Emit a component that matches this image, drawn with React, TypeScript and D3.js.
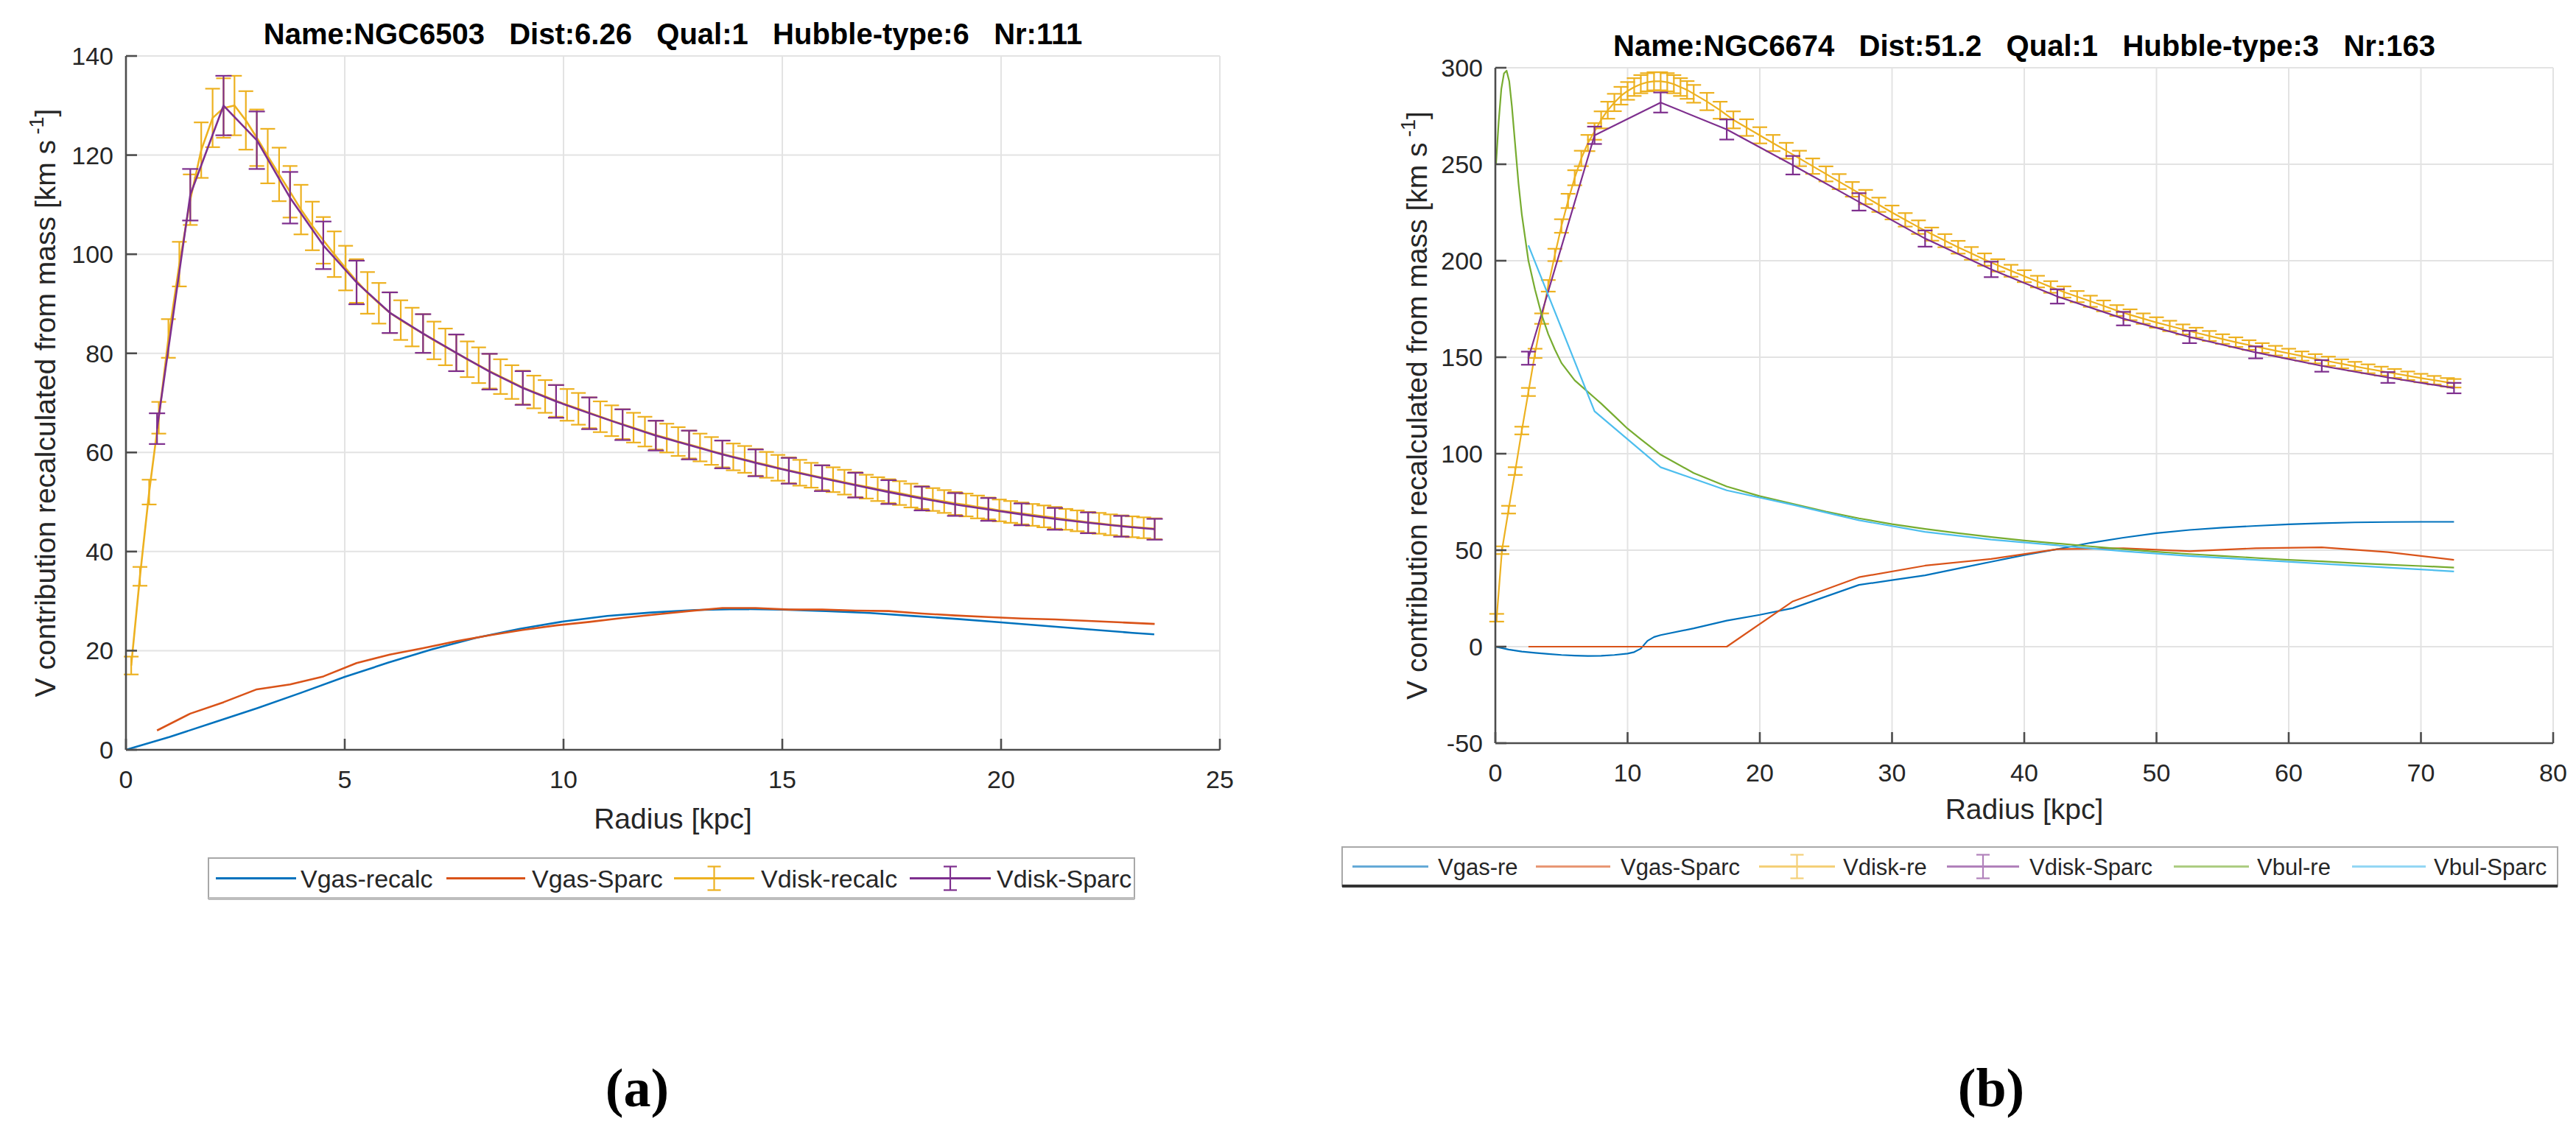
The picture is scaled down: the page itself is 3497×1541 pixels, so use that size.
import React from 'react';
import * as d3 from 'd3';

// ---------------- Panel (a) data: NGC6503 ----------------
const aTitle = 'Name:NGC6503   Dist:6.26   Qual:1   Hubble-type:6   Nr:111';
const aXTicks = [0, 5, 10, 15, 20, 25];
const aYTicks = [0, 20, 40, 60, 80, 100, 120, 140];
const aLegend = ['Vgas-recalc', 'Vgas-Sparc', 'Vdisk-recalc', 'Vdisk-Sparc'];

const aGasRecalcR = [0, 1, 2, 3, 4, 5, 6, 7, 8, 9, 10, 11, 12, 13, 14, 15, 16, 17, 18, 19, 20, 21, 22, 23, 23.5];
const aGasRecalcV = [0, 2.6, 5.5, 8.4, 11.5, 14.7, 17.6, 20.3, 22.6, 24.4, 25.9, 27.0, 27.7, 28.2, 28.4, 28.3, 28.0, 27.6, 27.0, 26.4, 25.7, 25.0, 24.3, 23.6, 23.3];

const aSparcR = [0.71, 1.47, 2.23, 2.99, 3.75, 4.51, 5.27, 6.03, 6.79, 7.55, 8.31, 9.07, 9.83, 10.59, 11.35, 12.11, 12.87, 13.63, 14.39, 15.15, 15.91, 16.67, 17.43, 18.19, 18.95, 19.71, 20.47, 21.23, 21.99, 22.75, 23.51];
const aGasSparcV = [3.9, 7.3, 9.6, 12.2, 13.2, 14.8, 17.5, 19.2, 20.5, 21.9, 23.1, 24.2, 25.1, 25.8, 26.6, 27.3, 28.0, 28.6, 28.6, 28.3, 28.3, 28.1, 28.0, 27.5, 27.1, 26.8, 26.5, 26.3, 26.0, 25.7, 25.4];
const aDiskSparcV = [64.8, 112, 130, 123, 111.4, 101.8, 94.3, 88.2, 84.0, 80.1, 76.3, 73.0, 70.3, 67.9, 65.6, 63.4, 61.5, 59.6, 57.9, 56.3, 54.8, 53.4, 52.0, 50.7, 49.5, 48.5, 47.5, 46.6, 45.8, 45.1, 44.5];
const aDiskSparcE = [3.1, 5.2, 6.0, 5.8, 5.2, 4.8, 4.4, 4.1, 3.9, 3.7, 3.6, 3.4, 3.3, 3.2, 3.1, 3.0, 2.9, 2.8, 2.7, 2.6, 2.6, 2.5, 2.4, 2.4, 2.3, 2.3, 2.2, 2.2, 2.1, 2.1, 2.1];

const aDiskRecalcR = [
  0.12, 0.32, 0.53, 0.75, 0.97, 1.22, 1.47, 1.72, 1.98, 2.23, 2.48,
  2.74, 2.99, 3.24, 3.50, 3.75, 4.00, 4.26, 4.51, 4.76, 5.02,
  5.27, 5.52, 5.78, 6.03, 6.28, 6.54, 6.79, 7.04, 7.30, 7.55,
  7.80, 8.06, 8.31, 8.56, 8.82, 9.07, 9.32, 9.58, 9.83, 10.08,
  10.34, 10.59, 10.84, 11.10, 11.35, 11.60, 11.86, 12.11, 12.36, 12.62,
  12.87, 13.12, 13.38, 13.63, 13.88, 14.14, 14.39, 14.64, 14.90, 15.15,
  15.40, 15.66, 15.91, 16.16, 16.42, 16.67, 16.92, 17.18, 17.43, 17.68,
  17.94, 18.19, 18.44, 18.70, 18.95, 19.20, 19.46, 19.71, 19.96, 20.22,
  20.47, 20.72, 20.98, 21.23, 21.48, 21.74, 21.99, 22.24, 22.50, 22.75,
  23.00, 23.26, 23.51];
const aDiskRecalcV = [
  17, 35, 52, 67, 83, 98, 111, 121, 127.5, 129.5, 130,
  127, 123.5, 119.8, 116.1, 112.6, 109, 105.7, 102.8, 100, 97.2,
  94.6, 92.2, 90.1, 88.2, 86.7, 85.3, 84.0, 82.6, 81.3, 80.1,
  78.8, 77.6, 76.4, 75.3, 74.2, 73.1, 72.2, 71.3, 70.4, 69.6,
  68.8, 68.0, 67.2, 66.4, 65.7, 65.0, 64.2, 63.5, 62.9, 62.2,
  61.6, 61.0, 60.3, 59.7, 59.1, 58.6, 58.0, 57.5, 56.9, 56.4,
  55.9, 55.4, 54.9, 54.5, 54.0, 53.5, 53.1, 52.6, 52.2, 51.8,
  51.3, 50.9, 50.5, 50.1, 49.7, 49.4, 49.0, 48.7, 48.3, 48.0,
  47.7, 47.4, 47.1, 46.8, 46.5, 46.2, 45.9, 45.7, 45.4, 45.2,
  45.0, 44.8, 44.6];
const aDiskRecalcE = [
  1.8, 1.9, 2.5, 3.2, 3.9, 4.5, 5.1, 5.6, 5.9, 6.0, 6.0,
  5.9, 5.7, 5.5, 5.4, 5.2, 5.0, 4.9, 4.7, 4.6, 4.5,
  4.4, 4.2, 4.1, 4.1, 4.0, 3.9, 3.9, 3.8, 3.7, 3.7,
  3.6, 3.6, 3.5, 3.5, 3.4, 3.4, 3.3, 3.3, 3.2, 3.2,
  3.2, 3.1, 3.1, 3.1, 3.0, 3.0, 3.0, 2.9, 2.9, 2.9,
  2.8, 2.8, 2.8, 2.7, 2.7, 2.7, 2.7, 2.6, 2.6, 2.6,
  2.6, 2.5, 2.5, 2.5, 2.5, 2.5, 2.4, 2.4, 2.4, 2.4,
  2.4, 2.3, 2.3, 2.3, 2.3, 2.3, 2.3, 2.2, 2.2, 2.2,
  2.2, 2.2, 2.2, 2.2, 2.1, 2.1, 2.1, 2.1, 2.1, 2.1,
  2.1, 2.1, 2.1];

// ---------------- Panel (b) data: NGC6674 ----------------
const bTitle = 'Name:NGC6674   Dist:51.2   Qual:1   Hubble-type:3   Nr:163';
const bXTicks = [0, 10, 20, 30, 40, 50, 60, 70, 80];
const bYTicks = [-50, 0, 50, 100, 150, 200, 250, 300];
const bLegend = ['Vgas-re', 'Vgas-Sparc', 'Vdisk-re', 'Vdisk-Sparc', 'Vbul-re', 'Vbul-Sparc'];

const bGasReR = [0, 1, 2, 3, 4, 5, 6, 7, 8, 9, 10, 10.5, 11, 11.5, 12, 12.5, 15, 17.5, 20, 22.5, 25, 27.5, 30, 32.5, 35, 37.5, 40, 42.5, 45, 47.5, 50, 52.5, 55, 57.5, 60, 62.5, 65, 67.5, 70, 72.5];
const bGasReV = [0, -1.5, -2.5, -3.2, -3.8, -4.3, -4.6, -4.8, -4.7, -4.3, -3.6, -2.8, -1, 3, 5, 6, 9.5, 13.5, 16.5, 20, 26, 32, 34.5, 37, 40.5, 44, 47.5, 50.5, 53.8, 56.5, 58.8, 60.5, 61.7, 62.6, 63.4, 64.0, 64.4, 64.6, 64.7, 64.7];

const bSparcR = [2.5, 7.5, 12.5, 17.5, 22.5, 27.5, 32.5, 37.5, 42.5, 47.5, 52.5, 57.5, 62.5, 67.5, 72.5];
const bGasSparcV = [0, 0, 0, 0, 23.5, 36, 42, 45.5, 50.5, 51, 49.5, 51, 51.5, 49, 45];
const bDiskSparcV = [149.5, 265, 282, 268, 249.5, 230.5, 211.5, 195.5, 181.5, 170, 160.5, 152.5, 145.5, 139.5, 134];
const bDiskSparcE = [3.4, 4.5, 5.2, 5.2, 4.8, 4.5, 4.2, 4.0, 3.7, 3.5, 3.2, 3.1, 3.0, 2.8, 2.7];
const bBulSparcV = [208, 122, 93, 81, 73.5, 65.5, 59.5, 55.5, 52.5, 49.5, 47, 45, 43, 41, 39];

const bDiskReR = [
  0.1, 0.5, 1, 1.5, 2, 2.5, 3, 3.5, 4, 4.5,
  5, 5.5, 6, 6.5, 7, 7.5, 8, 8.5, 9, 9.5,
  10, 10.5, 11, 11.5, 12, 12.5, 13, 13.5, 14, 14.5, 15,
  16, 17, 18, 19, 20, 21, 22, 23, 24, 25,
  26, 27, 28, 29, 30, 31, 32, 33, 34, 35,
  36, 37, 38, 39, 40, 41, 42, 43, 44, 45,
  46, 47, 48, 49, 50, 51, 52, 53, 54, 55,
  56, 57, 58, 59, 60, 61, 62, 63, 64, 65,
  66, 67, 68, 69, 70, 71, 72, 72.5];
const bDiskReV = [
  15, 50, 71, 91, 112, 132, 152, 170, 187, 203,
  218, 231, 243, 253, 261, 267, 273, 278, 282, 285.5,
  288, 290, 291.5, 292.5, 293, 293, 292.5, 291.5, 290, 288.5, 286.5,
  282.5, 278, 273, 269, 265, 261, 257, 253, 249, 245,
  241, 237, 233, 229, 225, 221.2, 217.4, 213.8, 210.4, 207,
  203.8, 200.6, 197.6, 194.8, 192, 189.2, 186.4, 183.8, 181.4, 179,
  176.6, 174.2, 172, 170, 168, 166.2, 164.4, 162.7, 161, 159.4,
  157.8, 156.3, 154.8, 153.4, 152, 150.6, 149.2, 147.9, 146.6, 145.3,
  144, 142.8, 141.6, 140.4, 139.2, 138.1, 137, 136.5];
const bDiskReE = [
  2.0, 2.0, 2.0, 2.0, 2.0, 2.1, 2.4, 2.7, 3.0, 3.2,
  3.5, 3.7, 3.9, 4.0, 4.2, 4.3, 4.4, 4.4, 4.5, 4.6,
  4.6, 4.6, 4.7, 4.7, 4.7, 4.7, 4.7, 4.7, 4.6, 4.6, 4.6,
  4.5, 4.4, 4.4, 4.3, 4.2, 4.2, 4.1, 4.0, 4.0, 3.9,
  3.9, 3.8, 3.7, 3.7, 3.6, 3.5, 3.5, 3.4, 3.4, 3.3,
  3.3, 3.2, 3.2, 3.1, 3.1, 3.0, 3.0, 2.9, 2.9, 2.9,
  2.8, 2.8, 2.8, 2.7, 2.7, 2.7, 2.6, 2.6, 2.6, 2.5,
  2.5, 2.5, 2.5, 2.5, 2.4, 2.4, 2.4, 2.4, 2.3, 2.3,
  2.3, 2.3, 2.3, 2.2, 2.2, 2.2, 2.2, 2.2];

const bBulReR = [0.05, 0.25, 0.45, 0.65, 0.85, 1.05, 1.25, 1.5, 1.75, 2.0, 2.5, 3.0, 3.5, 4.0, 4.5, 5.0, 6.0, 7.0, 7.5, 8, 9, 10, 11, 12.5, 15, 17.5, 20, 22.5, 25, 27.5, 30, 32.5, 35, 37.5, 40, 42.5, 45, 47.5, 50, 52.5, 55, 57.5, 60, 62.5, 65, 67.5, 70, 72.5];
const bBulReV = [250, 272, 289, 297, 298.5, 293, 280, 260, 240, 224, 200, 185, 172, 162, 154, 147, 138, 132, 129, 126, 119.5, 113, 107.5, 99.5, 90, 83, 78, 74, 70, 66.5, 63.5, 61, 58.8, 56.8, 55, 53.5, 52, 50.5, 49.2, 48, 47, 46, 45, 44.2, 43.3, 42.5, 41.8, 41];

// ---------------- styling ----------------
const C_BLUE = '#0072BD';
const C_RED = '#D95319';
const C_YEL = '#EDB120';
const C_PUR = '#7E2F8E';
const C_GRN = '#77AC30';
const C_CYA = '#4DBEEE';
const FONT = "'Liberation Sans', Arial, Helvetica, sans-serif";
const TXT = '#262626';

type Series = { kind: 'line' | 'err'; r: number[]; v: number[]; e?: number[]; color: string; w: number; cap: number; op?: number };

type PanelProps = {
  xRange: [number, number];
  yRange: [number, number];
  xDom: [number, number];
  yDom: [number, number];
  xTicks: number[];
  yTicks: number[];
  series: Series[];
  title: string;
  titleY: number;
  yLabelX: number;
  xLabelY: number;
  legend: string[];
  legendBox: [number, number, number, number];
  legendLines: [number, number][];
  legendTextX: number[];
  legendFont: number;
  legendBottom: string;
  legendOpacity: number;
  tag: string;
  tagX: number;
};

function Panel(p: PanelProps) {
  const xs = d3.scaleLinear().domain(p.xDom).range(p.xRange);
  const ys = d3.scaleLinear().domain(p.yDom).range(p.yRange);
  const [xl, xr] = p.xRange;
  const [yb, yt] = p.yRange;
  const cx = (xl + xr) / 2;
  const cy = (yb + yt) / 2;
  const tick = 15;

  const lineFor = (s: Series) =>
    d3.line<number>().x((_, i) => xs(s.r[i])).y((d) => ys(d))(s.v) || '';

  const [lx0, ly0, lx1, ly1] = p.legendBox;
  const lcy = (ly0 + ly1) / 2;

  return (
    <g>
      {p.xTicks.map((t) => (
        <line key={'gx' + t} x1={xs(t)} x2={xs(t)} y1={yb} y2={yt} stroke="#e3e3e3" strokeWidth={2} />
      ))}
      {p.yTicks.map((t) => (
        <line key={'gy' + t} x1={xl} x2={xr} y1={ys(t)} y2={ys(t)} stroke="#e3e3e3" strokeWidth={2} />
      ))}
      {p.series.map((s, si) => (
        <g key={'s' + si} opacity={s.op ?? 1}>
          <path d={lineFor(s)} fill="none" stroke={s.color} strokeWidth={s.w} strokeLinejoin="round" />
          {s.kind === 'err' &&
            s.v.map((v, i) => {
              const x = xs(s.r[i]);
              const e = s.e ? s.e[i] : 0;
              const yHi = ys(v + e);
              const yLo = ys(v - e);
              const hw = s.cap / 2;
              return (
                <g key={i} stroke={s.color} strokeWidth={2.2}>
                  <line x1={x} x2={x} y1={yHi} y2={yLo} />
                  <line x1={x - hw} x2={x + hw} y1={yHi} y2={yHi} />
                  <line x1={x - hw} x2={x + hw} y1={yLo} y2={yLo} />
                </g>
              );
            })}
        </g>
      ))}
      <line x1={xl} x2={xr} y1={yb} y2={yb} stroke="#4d4d4d" strokeWidth={2.6} />
      <line x1={xl} x2={xl} y1={yb} y2={yt} stroke="#4d4d4d" strokeWidth={2.6} />
      {p.xTicks.map((t) => (
        <g key={'tx' + t}>
          <line x1={xs(t)} x2={xs(t)} y1={yb} y2={yb - tick} stroke="#4d4d4d" strokeWidth={2.6} />
          <text x={xs(t)} y={yb + 52} textAnchor="middle" fontSize={34} fill={TXT} fontFamily={FONT}>
            {t}
          </text>
        </g>
      ))}
      {p.yTicks.map((t) => (
        <g key={'ty' + t}>
          <line x1={xl} x2={xl + tick} y1={ys(t)} y2={ys(t)} stroke="#4d4d4d" strokeWidth={2.6} />
          <text x={xl - 17} y={ys(t) + 12} textAnchor="end" fontSize={34} fill={TXT} fontFamily={FONT}>
            {t}
          </text>
        </g>
      ))}
      <text x={cx} y={p.titleY} textAnchor="middle" fontSize={40} fontWeight="bold" fill="#000" fontFamily={FONT} style={{ whiteSpace: 'pre' }}>
        {p.title}
      </text>
      <text
        transform={`translate(${p.yLabelX},${cy}) rotate(-90)`}
        textAnchor="middle"
        fontSize={39}
        fill={TXT}
        fontFamily={FONT}
        dy={13}
      >
        V contribution recalculated from mass [km s
        <tspan fontSize={27} dy={-16}>{' -1'}</tspan>
        <tspan dy={16}>]</tspan>
      </text>
      <text x={cx} y={p.xLabelY} textAnchor="middle" fontSize={39} fill={TXT} fontFamily={FONT}>
        Radius [kpc]
      </text>
      <rect x={lx0} y={ly0} width={lx1 - lx0} height={ly1 - ly0} fill="#fff" stroke="#a8a8a8" strokeWidth={2} />
      <line x1={lx0} x2={lx1} y1={ly1} y2={ly1} stroke={p.legendBottom} strokeWidth={4} />
      {p.legend.map((name, i) => {
        const s = p.series[i];
        const [a, b] = p.legendLines[i];
        const m = (a + b) / 2;
        return (
          <g key={'lg' + i}>
            <g opacity={p.legendOpacity}>
              <line x1={a} x2={b} y1={lcy} y2={lcy} stroke={s.color} strokeWidth={3} />
              {s.kind === 'err' && (
                <g stroke={s.color} strokeWidth={2.2}>
                  <line x1={m} x2={m} y1={lcy - 16} y2={lcy + 16} />
                  <line x1={m - 9} x2={m + 9} y1={lcy - 16} y2={lcy - 16} />
                  <line x1={m - 9} x2={m + 9} y1={lcy + 16} y2={lcy + 16} />
                </g>
              )}
            </g>
            <text x={p.legendTextX[i]} y={lcy + p.legendFont * 0.36} fontSize={p.legendFont} fill={TXT} fontFamily={FONT}>
              {name}
            </text>
          </g>
        );
      })}
      <text x={p.tagX} y={1502} textAnchor="middle" fontSize={74} fontWeight="bold" fill="#000" fontFamily="'Liberation Serif', 'DejaVu Serif', serif">
        {p.tag}
      </text>
    </g>
  );
}

export default function App() {
  const aSeries: Series[] = [
    { kind: 'line', r: aGasRecalcR, v: aGasRecalcV, color: C_BLUE, w: 2.6, cap: 0 },
    { kind: 'line', r: aSparcR, v: aGasSparcV, color: C_RED, w: 2.6, cap: 0 },
    { kind: 'err', r: aDiskRecalcR, v: aDiskRecalcV, e: aDiskRecalcE, color: C_YEL, w: 2.6, cap: 20 },
    { kind: 'err', r: aSparcR, v: aDiskSparcV, e: aDiskSparcE, color: C_PUR, w: 2.6, cap: 22 },
  ];
  const bSeries: Series[] = [
    { kind: 'line', r: bGasReR, v: bGasReV, color: C_BLUE, w: 2.2, cap: 0 },
    { kind: 'line', r: bSparcR, v: bGasSparcV, color: C_RED, w: 2.2, cap: 0 },
    { kind: 'err', r: bDiskReR, v: bDiskReV, e: bDiskReE, color: C_YEL, w: 2.2, cap: 20 },
    { kind: 'err', r: bSparcR, v: bDiskSparcV, e: bDiskSparcE, color: C_PUR, w: 2.2, cap: 20 },
    { kind: 'line', r: bBulReR, v: bBulReV, color: C_GRN, w: 2.2, cap: 0 },
    { kind: 'line', r: bSparcR, v: bBulSparcV, color: C_CYA, w: 2.2, cap: 0 },
  ];

  return (
    <svg
      width={3497}
      height={1541}
      viewBox="0 0 3497 1541"
      style={{ position: 'absolute', left: 0, top: 0, background: '#fff' }}
    >
      <rect x={0} y={0} width={3497} height={1541} fill="#fff" />
      <Panel
        xRange={[171, 1656]}
        yRange={[1018, 76]}
        xDom={[0, 25]}
        yDom={[0, 140]}
        xTicks={aXTicks}
        yTicks={aYTicks}
        series={aSeries}
        title={aTitle}
        titleY={60}
        yLabelX={62}
        xLabelY={1125}
        legend={aLegend}
        legendBox={[283, 1165, 1540, 1220]}
        legendLines={[[293, 402], [606, 713], [915, 1024], [1235, 1345]]}
        legendTextX={[408, 722, 1033, 1353]}
        legendFont={34}
        legendBottom="#bdbdbd"
        legendOpacity={1}
        tag="(a)"
        tagX={865}
      />
      <Panel
        xRange={[2030, 3466]}
        yRange={[1009, 92]}
        xDom={[0, 80]}
        yDom={[-50, 300]}
        xTicks={bXTicks}
        yTicks={bYTicks}
        series={bSeries}
        title={bTitle}
        titleY={76}
        yLabelX={1924}
        xLabelY={1112}
        legend={bLegend}
        legendBox={[1822, 1150, 3472, 1203]}
        legendLines={[[1836, 1939], [2085, 2186], [2388, 2491], [2643, 2741], [2951, 3053], [3193, 3293]]}
        legendTextX={[1952, 2200, 2502, 2755, 3064, 3304]}
        legendFont={31}
        legendBottom="#333333"
        legendOpacity={0.6}
        tag="(b)"
        tagX={2703}
      />
    </svg>
  );
}
